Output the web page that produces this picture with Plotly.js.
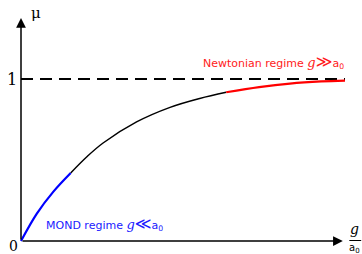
<!DOCTYPE html>
<html><head><meta charset="utf-8">
<script src="https://cdn.plot.ly/plotly-3.0.1.min.js"></script>
<style>html,body{margin:0;padding:0;background:#fff}#c{width:362px;height:254px}</style>
</head><body><div id="c"></div>
<script>
// Values (x in g/a0-like units, mu dimensionless)
const mondX = [0, 0.29, 0.6, 0.92];
const mondMu = [0, 0.168, 0.305, 0.42];
const midX = [0.92, 1.22, 1.52, 2.14, 2.76, 3.31, 3.8];
const midMu = [0.42, 0.52, 0.605, 0.735, 0.825, 0.88, 0.918];
const newtX = [3.8, 4.41, 4.98, 5.56, 6.0];
const newtMu = [0.918, 0.95, 0.972, 0.985, 0.99];
const limitX = [0, 6.0];
const limitMu = [1, 1];
const yTickLabels = ['0', '1'];
const mondLabel = 'MOND regime ';
const newtLabel = 'Newtonian regime ';

const serif = "'DejaVu Serif', 'Liberation Serif', serif";
const sans = "'DejaVu Sans', sans-serif";
const gPart = (rel) => `<span style="font-family:${serif};font-size:13px"><i>g</i></span>` +
  `<span style="font-size:16px">${rel}</span>a<sub>0</sub>`;

const traces = [
  {x: limitX, y: limitMu, mode: 'lines', line: {color: '#000', width: 2, dash: '12px,7px'}, hoverinfo: 'skip'},
  {x: midX, y: midMu, mode: 'lines', line: {color: '#000', width: 1.5, shape: 'spline'}, hoverinfo: 'skip'},
  {x: mondX, y: mondMu, mode: 'lines', line: {color: '#0000ff', width: 2.2, shape: 'spline'}, hoverinfo: 'skip'},
  {x: newtX, y: newtMu, mode: 'lines', line: {color: '#ff0000', width: 2.2, shape: 'spline'}, hoverinfo: 'skip'}
];

const ax = {visible: false, fixedrange: true};
const layout = {
  width: 362, height: 254,
  margin: {l: 0, r: 0, t: 0, b: 0},
  paper_bgcolor: '#fff', plot_bgcolor: '#fff',
  showlegend: false,
  xaxis: Object.assign({range: [-21/54, 341/54]}, ax),
  yaxis: Object.assign({range: [-13/162, 241/162]}, ax),
  shapes: [
    {type: 'line', xref: 'x', yref: 'y', x0: 6.08, x1: 6.30, y0: 0.003, y1: 0.003, line: {color: '#000', width: 1}}
  ],
  annotations: [
    {x: 0, y: 1.377, ax: 0, ay: 0, xref: 'x', yref: 'y', axref: 'x', ayref: 'y', text: '', showarrow: true,
     arrowhead: 2, arrowsize: 1.3, arrowwidth: 1.5, arrowcolor: '#000', standoff: 0},
    {x: 5.96, y: 0, ax: 0, ay: 0, xref: 'x', yref: 'y', axref: 'x', ayref: 'y', text: '', showarrow: true,
     arrowhead: 2, arrowsize: 1.3, arrowwidth: 1.5, arrowcolor: '#000', standoff: 0},
    {x: 0.27, y: 1.41, xref: 'x', yref: 'y', text: 'μ', showarrow: false, font: {family: serif, size: 15, color: '#000'}},
    {x: 6.185, y: 0.072, xref: 'x', yref: 'y', text: '<i>g</i>', showarrow: false, font: {family: serif, size: 14, color: '#000'}},
    {x: 6.185, y: -0.045, xref: 'x', yref: 'y', text: 'a<sub>0</sub>', showarrow: false, font: {family: sans, size: 10, color: '#000'}},
    {x: -0.165, y: 1.0, xref: 'x', yref: 'y', text: yTickLabels[1], showarrow: false, font: {family: serif, size: 16, color: '#000'}},
    {x: -0.13, y: -0.028, xref: 'x', yref: 'y', text: yTickLabels[0], showarrow: false, font: {family: serif, size: 14, color: '#000'}},
    {x: 3.34, y: 1.11, xref: 'x', yref: 'y', xanchor: 'left', text: newtLabel + gPart('≫'), showarrow: false,
     font: {family: sans, size: 11, color: '#ff1a1a'}},
    {x: 0.43, y: 0.105, xref: 'x', yref: 'y', xanchor: 'left', text: mondLabel + gPart('≪'), showarrow: false,
     font: {family: sans, size: 11, color: '#1a1aff'}}
  ]
};
Plotly.newPlot('c', traces, layout, {staticPlot: true, displayModeBar: false});
</script></body></html>
